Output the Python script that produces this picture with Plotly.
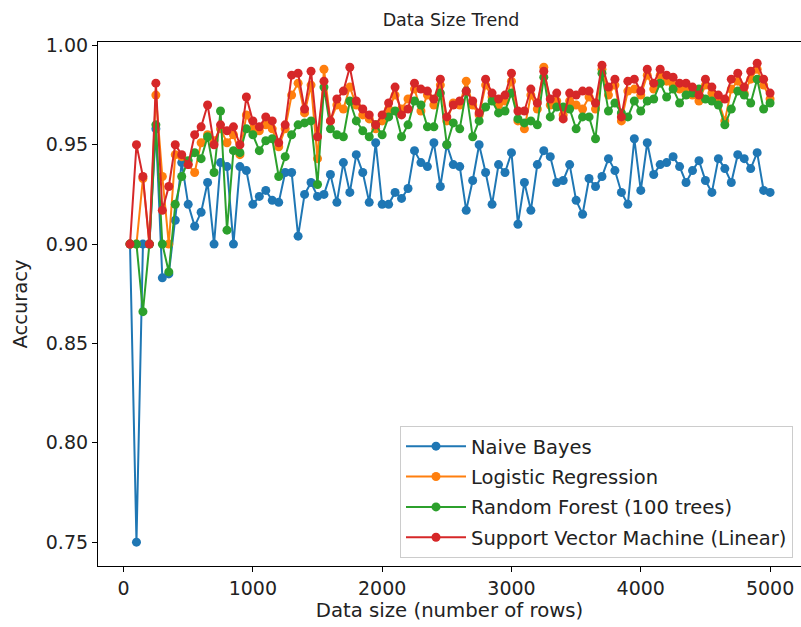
import plotly.graph_objects as go

data_size = list(range(50, 5001, 50))

naive_bayes = [
    0.900, 0.750, 0.900, 0.900, 0.958, 0.883, 0.885, 0.912, 0.941, 0.920,
    0.909, 0.916, 0.931, 0.900, 0.941, 0.939, 0.900, 0.939, 0.937, 0.920,
    0.924, 0.927, 0.922, 0.921, 0.936, 0.936, 0.904, 0.925, 0.931, 0.924,
    0.925, 0.935, 0.921, 0.941, 0.926, 0.945, 0.936, 0.921, 0.951, 0.920,
    0.920, 0.926, 0.923, 0.928, 0.947, 0.941, 0.939, 0.951, 0.929, 0.950,
    0.940, 0.939, 0.917, 0.932, 0.950, 0.936, 0.920, 0.940, 0.936, 0.946,
    0.910, 0.931, 0.917, 0.940, 0.947, 0.944, 0.931, 0.932, 0.940, 0.922,
    0.915, 0.933, 0.929, 0.934, 0.943, 0.937, 0.926, 0.920, 0.953, 0.927,
    0.951, 0.935, 0.940, 0.941, 0.944, 0.939, 0.931, 0.937, 0.942, 0.932,
    0.926, 0.943, 0.938, 0.931, 0.945, 0.943, 0.938, 0.946, 0.927, 0.926,
]

logistic_regression = [
    0.900, 0.900, 0.933, 0.900, 0.975, 0.934, 0.900, 0.945, 0.944, 0.940,
    0.936, 0.951, 0.955, 0.952, 0.958, 0.951, 0.955, 0.945, 0.965, 0.958,
    0.957, 0.960, 0.958, 0.949, 0.958, 0.975, 0.981, 0.966, 0.980, 0.943,
    0.988, 0.962, 0.970, 0.968, 0.979, 0.970, 0.965, 0.963, 0.958, 0.962,
    0.968, 0.975, 0.968, 0.973, 0.978, 0.967, 0.975, 0.970, 0.980, 0.962,
    0.971, 0.970, 0.982, 0.970, 0.965, 0.980, 0.974, 0.970, 0.972, 0.982,
    0.962, 0.958, 0.975, 0.968, 0.989, 0.970, 0.972, 0.965, 0.972, 0.970,
    0.968, 0.974, 0.968, 0.988, 0.975, 0.980, 0.962, 0.977, 0.978, 0.975,
    0.985, 0.978, 0.985, 0.982, 0.980, 0.978, 0.978, 0.975, 0.972, 0.980,
    0.976, 0.972, 0.962, 0.978, 0.982, 0.976, 0.983, 0.988, 0.980, 0.973,
]

random_forest = [
    0.900, 0.900, 0.866, 0.900, 0.960, 0.900, 0.886, 0.920, 0.934, 0.942,
    0.946, 0.943, 0.954, 0.936, 0.967, 0.907, 0.947, 0.946, 0.958, 0.955,
    0.947, 0.952, 0.953, 0.934, 0.944, 0.955, 0.960, 0.961, 0.962, 0.930,
    0.979, 0.958, 0.955, 0.954, 0.972, 0.962, 0.957, 0.954, 0.960, 0.955,
    0.964, 0.967, 0.954, 0.960, 0.972, 0.970, 0.959, 0.959, 0.976, 0.950,
    0.961, 0.958, 0.977, 0.954, 0.962, 0.969, 0.972, 0.966, 0.967, 0.976,
    0.963, 0.961, 0.962, 0.960, 0.984, 0.964, 0.969, 0.969, 0.968, 0.958,
    0.964, 0.964, 0.953, 0.986, 0.967, 0.971, 0.966, 0.964, 0.972, 0.967,
    0.972, 0.973, 0.981, 0.974, 0.978, 0.971, 0.975, 0.976, 0.978, 0.973,
    0.972, 0.970, 0.960, 0.968, 0.977, 0.975, 0.971, 0.983, 0.968, 0.971,
]

svm_linear = [
    0.900, 0.950, 0.934, 0.900, 0.981, 0.917, 0.929, 0.950, 0.945, 0.940,
    0.955, 0.959, 0.970, 0.950, 0.960, 0.957, 0.959, 0.950, 0.974, 0.962,
    0.959, 0.964, 0.962, 0.951, 0.960, 0.985, 0.986, 0.968, 0.987, 0.954,
    0.982, 0.962, 0.973, 0.977, 0.989, 0.972, 0.968, 0.965, 0.960, 0.965,
    0.971, 0.979, 0.965, 0.968, 0.981, 0.978, 0.977, 0.973, 0.983, 0.964,
    0.970, 0.972, 0.977, 0.972, 0.966, 0.983, 0.976, 0.973, 0.975, 0.986,
    0.967, 0.967, 0.978, 0.971, 0.987, 0.973, 0.976, 0.963, 0.976, 0.975,
    0.977, 0.977, 0.971, 0.990, 0.979, 0.983, 0.964, 0.982, 0.983, 0.977,
    0.988, 0.981, 0.988, 0.985, 0.984, 0.981, 0.981, 0.979, 0.975, 0.983,
    0.979, 0.975, 0.973, 0.983, 0.986, 0.979, 0.987, 0.991, 0.983, 0.976,
]

series_names = ["Naive Bayes", "Logistic Regression", "Random Forest (100 trees)",
                "Support Vector Machine (Linear)"]
series_values = [naive_bayes, logistic_regression, random_forest, svm_linear]
colors = ["#1f77b4", "#ff7f0e", "#2ca02c", "#d62728"]

y_ticks = [0.75, 0.80, 0.85, 0.90, 0.95, 1.00]
x_ticks = [0, 1000, 2000, 3000, 4000, 5000]

FONT = "DejaVu Sans"
TXT = "#222222"

fig = go.Figure()
for i, (name, vals, col) in enumerate(zip(series_names, series_values, colors)):
    fig.add_trace(go.Scatter(
        x=data_size, y=vals, mode="lines+markers", name=name,
        legendgroup=f"g{i}",
        line=dict(color=col, width=2),
        marker=dict(color=col, size=9),
    ))

axis_common = dict(
    showline=True, linecolor="black", linewidth=1.2, mirror=True,
    ticks="outside", ticklen=5, tickwidth=1.2, tickcolor="black",
    showgrid=False, zeroline=False, automargin=False,
    tickfont=dict(family=FONT, size=19, color=TXT),
)

fig.update_layout(
    width=801, height=627,
    margin=dict(l=98, r=0, t=42, b=61, autoexpand=False),
    paper_bgcolor="white", plot_bgcolor="white",
    font=dict(family=FONT, color=TXT),
    title=dict(text="Data Size Trend", x=451 / 801, xanchor="center",
               y=1 - 20 / 627, yanchor="middle",
               font=dict(family=FONT, size=17.5, color=TXT)),
    xaxis=dict(range=[-197.5, 5239], tickvals=x_ticks,
               title=dict(text="Data size (number of rows)", standoff=2,
                          font=dict(family=FONT, size=19.7, color=TXT)),
               **axis_common),
    yaxis=dict(range=[0.738, 1.0017], tickvals=y_ticks, tickformat=".2f",
               title=dict(text="Accuracy", standoff=12,
                          font=dict(family=FONT, size=19.5, color=TXT)),
               **axis_common),
    legend=dict(x=(793 - 98) / 703, xanchor="right",
                y=(566 - 558) / 524, yanchor="bottom",
                bgcolor="rgba(255,255,255,0.8)", bordercolor="#cccccc",
                borderwidth=1, tracegroupgap=2, itemwidth=60,
                font=dict(family=FONT, size=19.5, color=TXT)),
    showlegend=True,
)

fig.write_html(
    "out.html",
    config={"displayModeBar": False},
    post_script="document.body.style.margin='0';document.body.style.padding='0';",
)
